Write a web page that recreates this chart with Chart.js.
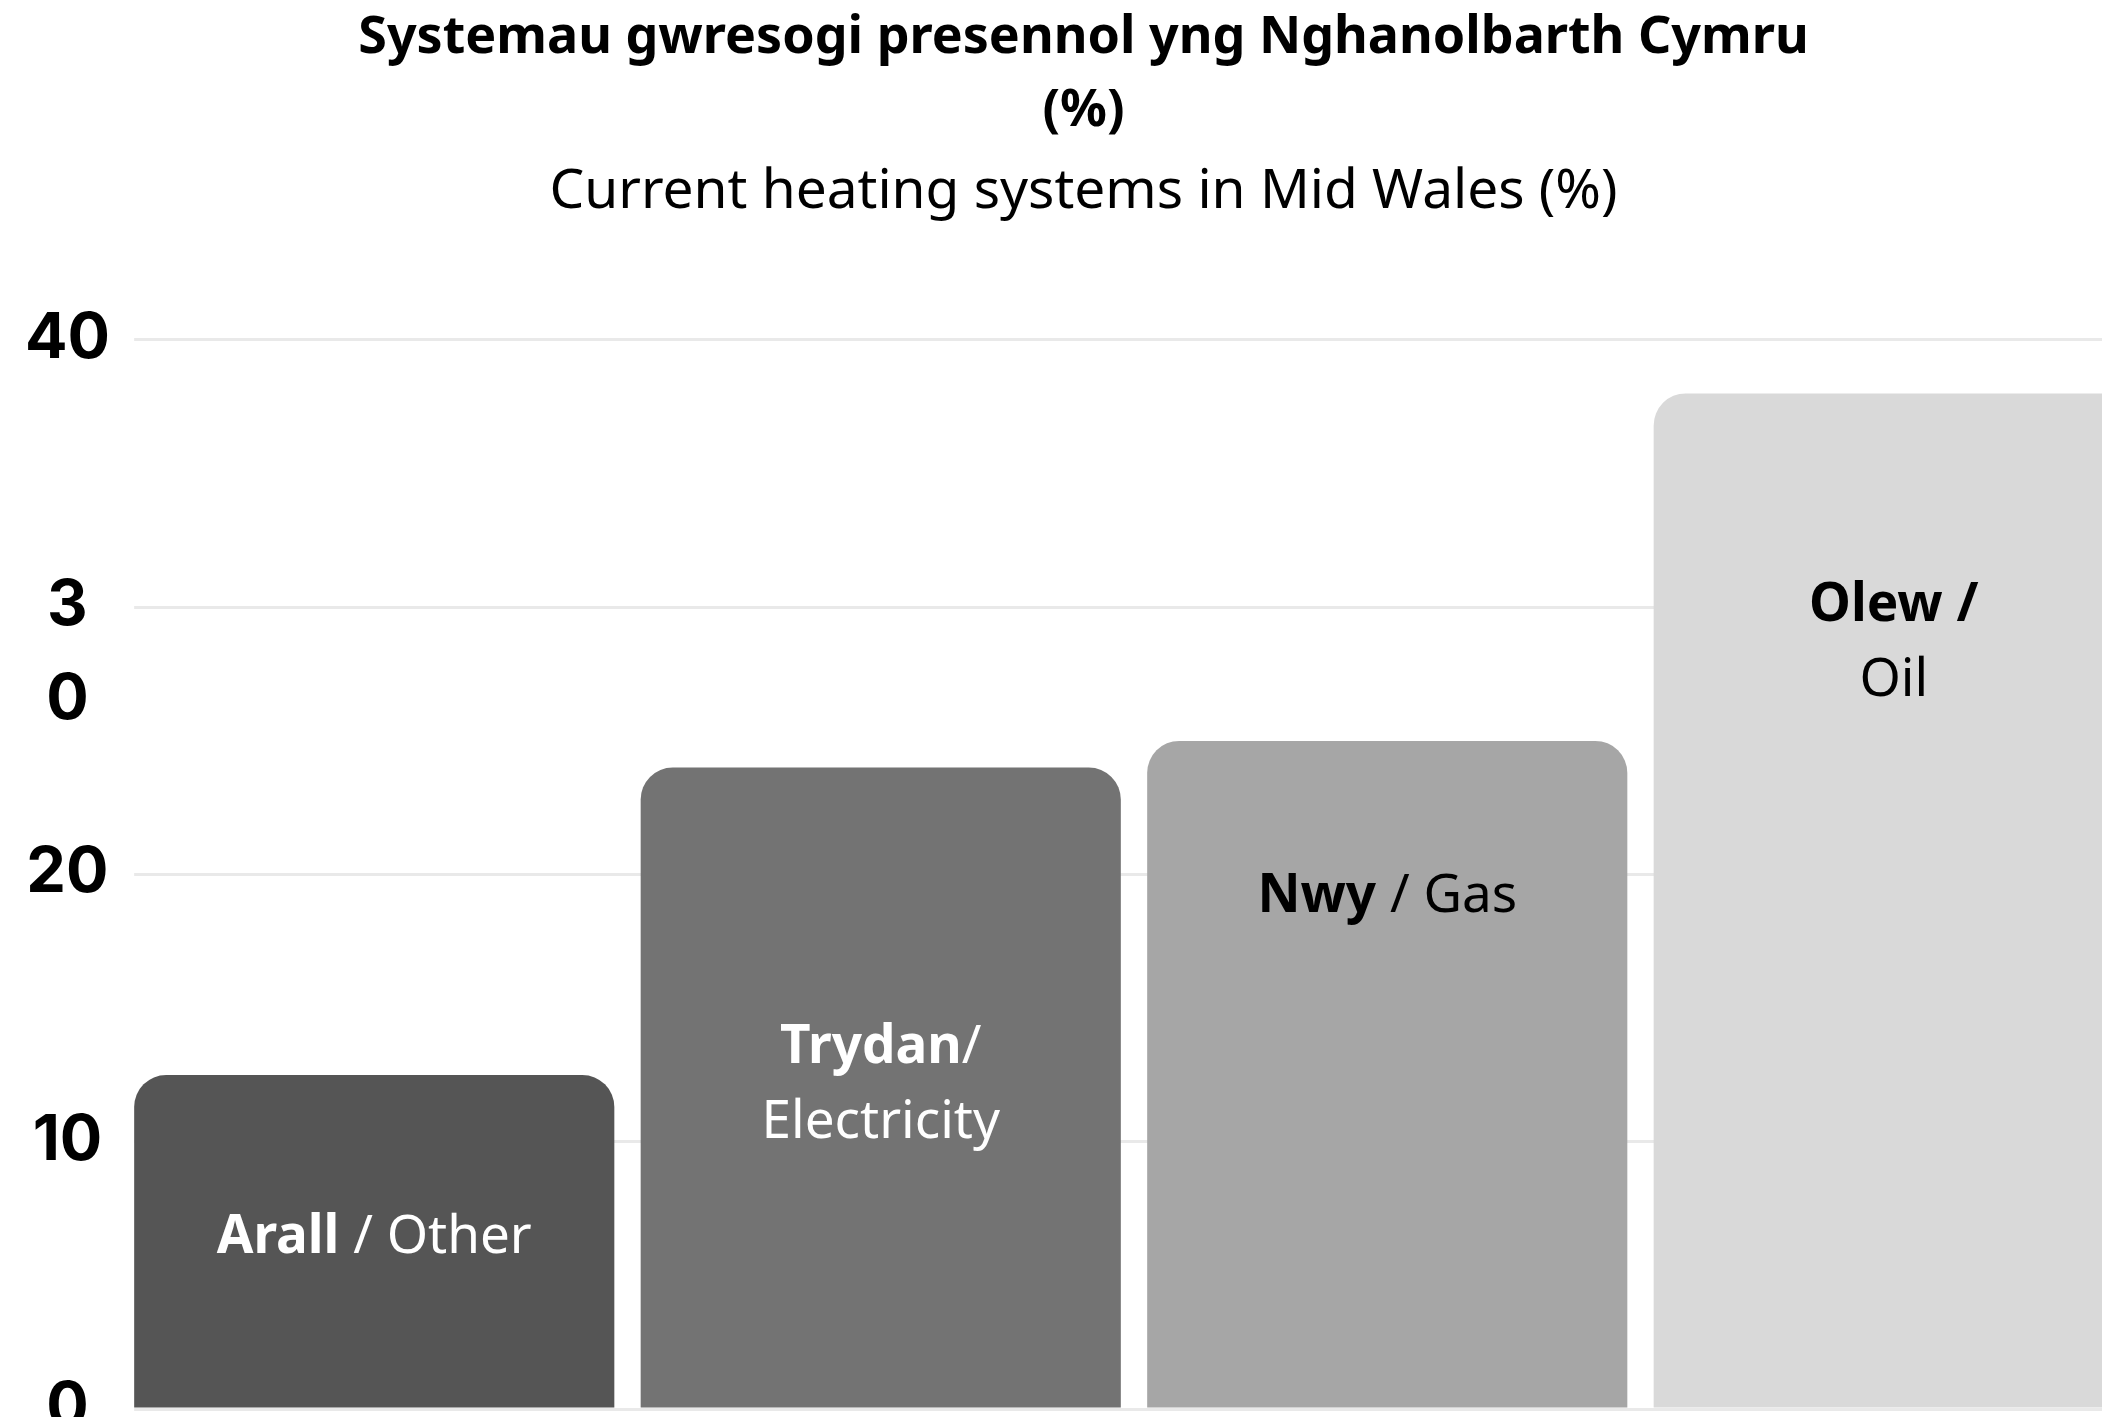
<!DOCTYPE html>
<html>
<head>
<meta charset="utf-8">
<script src="https://cdn.jsdelivr.net/npm/chart.js@4.4.1/dist/chart.umd.min.js"></script>
<style>
  html, body { margin: 0; padding: 0; background: #fff; }
  /* the original is cropped on the right and bottom, so the chart is a bit bigger than the window */
  #frame { width: 2102px; height: 1417px; overflow: hidden; position: relative; }
  #box { width: 2170px; height: 1467px; position: absolute; left: 0; top: 0; }
</style>
</head>
<body>
<div id="frame"><div id="box"><canvas id="chart"></canvas></div></div>
<script>
// Data
const categories = ['Arall / Other', 'Trydan/ Electricity', 'Nwy / Gas', 'Olew / Oil'];
const shares = [12.5, 24, 25, 38];
const yTicks = [0, 10, 20, 30, 40];
const yTickLabels = ['0', '10', '20', ['', '3', '0'], '40'];
// text inside each bar, one entry per line, each line a list of [text, bold]
const barLabelLines = [
  [[['Arall', true], [' / Other', false]]],
  [[['Trydan', true], ['/', false]], [['Electricity', false]]],
  [[['Nwy', true], [' / Gas', false]]],
  [[['Olew /', true]], [['Oil', false]]]
];

// gridlines start at the first bar, not at the axis
const gridStart = {
  id: 'gridStart',
  beforeDatasetsDraw(chart) {
    const { ctx, chartArea } = chart;
    const first = chart.getDatasetMeta(0).data[0];
    const left = first.x - first.width / 2;
    ctx.save();
    ctx.fillStyle = '#ffffff';
    ctx.fillRect(chartArea.left - 3, chartArea.top - 3, left - chartArea.left + 3, chartArea.bottom - chartArea.top + 6);
    ctx.restore();
  }
};

// draws the two-language labels inside the bars
const barText = {
  id: 'barText',
  afterDatasetsDraw(chart, args, opts) {
    const { ctx } = chart;
    const y = chart.scales.y;
    const meta = chart.getDatasetMeta(0);
    ctx.save();
    ctx.textBaseline = 'middle';
    ctx.textAlign = 'left';
    meta.data.forEach((bar, i) => {
      const lines = barLabelLines[i];
      const cy = y.getPixelForValue(opts.at[i]);
      const top = cy - (lines.length - 1) * opts.lineHeight / 2;
      ctx.fillStyle = opts.colors[i];
      lines.forEach((parts, k) => {
        const fonts = parts.map(p => (p[1] ? '700 ' : '400 ') + opts.size + 'px ' + opts.family);
        const widths = parts.map((p, j) => {
          ctx.font = fonts[j];
          return ctx.measureText(p[0]).width;
        });
        let x = bar.x - widths.reduce((a, b) => a + b, 0) / 2;
        parts.forEach((p, j) => {
          ctx.font = fonts[j];
          ctx.fillText(p[0], x, top + k * opts.lineHeight);
          x += widths[j];
        });
      });
    });
    ctx.restore();
  }
};

const chart = new Chart(document.getElementById('chart'), {
  type: 'bar',
  data: {
    labels: categories,
    datasets: [{
      data: shares,
      backgroundColor: ['#555555', '#737373', '#a6a6a6', '#d9d9d9'],
      borderRadius: { topLeft: 32, topRight: 32 },
      borderSkipped: 'start',
      barPercentage: 0.948,
      categoryPercentage: 1
    }]
  },
  options: {
    responsive: true,
    maintainAspectRatio: false,
    animation: false,
    layout: { padding: { left: 20, right: 23, top: 0, bottom: 0 } },
    plugins: {
      legend: { display: false },
      tooltip: { enabled: false },
      title: {
        display: true,
        text: ['Systemau gwresogi presennol yng Nghanolbarth Cymru', '(%)'],
        color: '#000',
        font: { family: 'Noto Sans', size: 52, weight: '700', lineHeight: 1.404 },
        padding: { top: 2, bottom: 10 }
      },
      subtitle: {
        display: true,
        text: 'Current heating systems in Mid Wales (%)',
        color: '#000',
        font: { family: 'Noto Sans', size: 55, weight: '400', lineHeight: 1.09 },
        padding: { top: 4, bottom: 118 }
      },
      barText: {
        at: [6.4, 12.1, 19.15, 28.65],
        colors: ['#ffffff', '#ffffff', '#000000', '#000000'],
        family: 'Noto Sans',
        size: 53,
        lineHeight: 75
      }
    },
    scales: {
      x: { display: false },
      y: {
        min: 0,
        max: 40,
        afterFit: s => { s.width = 101; },
        border: { display: false },
        grid: { color: '#e9e9e9', lineWidth: 3, drawTicks: false },
        ticks: {
          stepSize: 10,
          autoSkip: false,
          crossAlign: 'center',
          padding: 11,
          labelOffset: -1,
          color: '#000',
          font: { family: 'Inter', size: 63, weight: '700', lineHeight: 1.49 },
          callback: v => yTickLabels[yTicks.indexOf(v)]
        }
      }
    }
  },
  plugins: [gridStart, barText]
});
</script>
</body>
</html>
